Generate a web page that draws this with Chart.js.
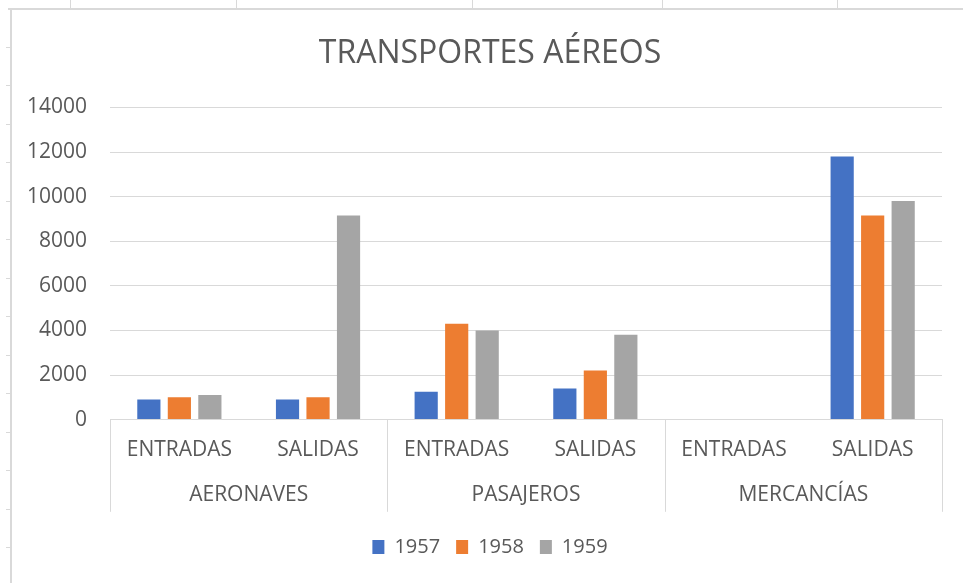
<!DOCTYPE html>
<html>
<head>
<meta charset="utf-8">
<script src="https://cdn.jsdelivr.net/npm/chart.js@4.4.1/dist/chart.umd.min.js"></script>
<style>
  html, body { margin: 0; padding: 0; background: #fff; overflow: hidden; }
  #wrap { position: relative; width: 963px; height: 583px; overflow: hidden; }
  #graph { position: absolute; left: 0; top: 0; }
  .ln { position: absolute; background: #d9d9d9; }
</style>
</head>
<body>
<div id="wrap">
  <canvas id="graph" width="976" height="583"></canvas>
</div>
<script>
const categories = ['ENTRADAS', 'SALIDAS', 'ENTRADAS', 'SALIDAS', 'ENTRADAS', 'SALIDAS'];
const groups = ['AERONAVES', 'PASAJEROS', 'MERCANCÍAS'];
const years = ['1957', '1958', '1959'];
const values1957 = [900, 900, 1250, 1400, null, 11800];
const values1958 = [1000, 1000, 4300, 2200, null, 9150];
const values1959 = [1100, 9150, 4000, 3800, null, 9800];
const yTicks = [0, 2000, 4000, 6000, 8000, 10000, 12000, 14000];
const colors = ['#4472C4', '#ED7D31', '#A5A5A5'];

// sheet lines around the chart frame (excel look)
const wrap = document.getElementById('wrap');
function line(l, t, w, h) {
    const d = document.createElement('div');
    d.className = 'ln';
    d.style.left = l + 'px'; d.style.top = t + 'px';
    d.style.width = w + 'px'; d.style.height = h + 'px';
    wrap.appendChild(d);
}
line(8, 8, 955, 2);
line(10, 8, 2, 575);
[70, 236, 472, 662, 837].forEach(x => line(x, 0, 1, 8));
for (let y = 46.5; y < 583; y += 38.5) line(6, Math.round(y), 4, 1);

const canva = document.getElementById('graph');
const FONT = "'Open Sans', sans-serif";
const GREY = '#595959';

// vertical separators between the groups, from the axis line down
const groupLines = {
    id: 'groupLines',
    afterDraw(chart) {
        const x2 = chart.scales.x2;
        const ctx = chart.ctx;
        const n = groups.length;
        ctx.save();
        ctx.strokeStyle = '#d9d9d9';
        ctx.lineWidth = 1;
        for (let i = 0; i <= n; i++) {
            const x = Math.round(x2.left + i * x2.width / n) + 0.5;
            ctx.beginPath();
            ctx.moveTo(x, chart.chartArea.bottom);
            ctx.lineTo(x, x2.top + 31);
            ctx.stroke();
        }
        ctx.restore();
    }
};

const data = {
    labels: categories,
    datasets: [values1957, values1958, values1959].map((vals, i) => ({
        label: years[i],
        data: vals,
        backgroundColor: colors[i],
        borderWidth: 0,
        categoryPercentage: 0.66,
        barPercentage: 0.76
    }))
};

const config = {
    type: 'bar',
    data,
    plugins: [groupLines],
    options: {
        responsive: false,
        animation: false,
        layout: { padding: { left: 4, right: 0, top: 10, bottom: 16 } },
        plugins: {
            title: {
                display: true,
                text: 'TRANSPORTES AÉREOS',
                color: GREY,
                font: { family: FONT, size: 32, weight: 'normal' },
                padding: { top: 25, bottom: 34 }
            },
            legend: {
                position: 'bottom',
                labels: {
                    color: GREY,
                    font: { family: FONT, size: 20 },
                    boxWidth: 12,
                    boxHeight: 14,
                    padding: 16
                }
            },
            tooltip: { enabled: false }
        },
        scales: {
            y: {
                min: 0,
                max: 14000,
                afterBuildTicks: s => { s.ticks = yTicks.map(v => ({ value: v })); },
                grid: { color: '#d9d9d9', drawTicks: false },
                border: { display: false },
                ticks: {
                    color: GREY, font: { family: FONT, size: 21 }, padding: 23,
                    callback: v => String(v)
                }
            },
            // empty spacer on the right so the title sits where it does in the original
            y2: {
                position: 'right',
                grid: { display: false, drawTicks: false },
                border: { display: false },
                ticks: { display: false },
                afterFit: s => { s.width = 34; }
            },
            x: {
                grid: { display: false, drawTicks: false },
                border: { display: true, color: '#d9d9d9' },
                ticks: { color: GREY, font: { family: FONT, size: 21 }, padding: 18, maxRotation: 0 }
            },
            x2: {
                type: 'category',
                labels: groups,
                position: 'bottom',
                offset: true,
                grid: { display: false, drawTicks: false },
                border: { display: false },
                ticks: { color: GREY, font: { family: FONT, size: 21 }, padding: 2, maxRotation: 0 },
                afterFit: s => { s.height += 11; }
            }
        }
    }
};

var chart = new Chart(canva, config);
</script>
</body>
</html>
